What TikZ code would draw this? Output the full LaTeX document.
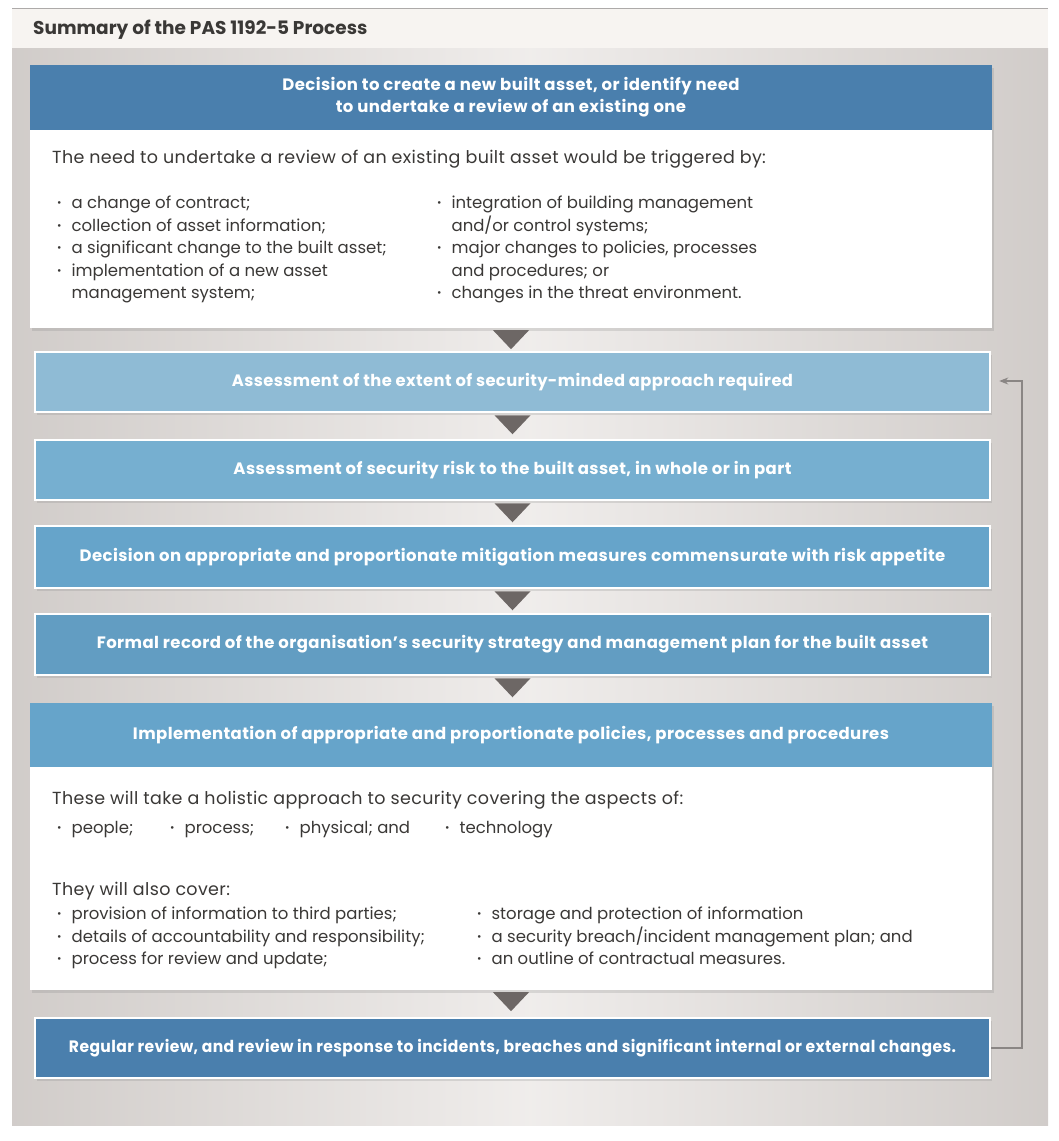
\documentclass[tikz,border=0pt]{standalone}
\usepackage{fontspec}
\setmainfont{Poppins}
\usepackage{xcolor}
\usepackage{graphicx}
\usetikzlibrary{calc,arrows.meta,shadows}

\definecolor{deepblue}{HTML}{4A7FAD}
\definecolor{paleblue}{HTML}{8FBBD5}
\definecolor{midblue}{HTML}{76AFD0}
\definecolor{softblue}{HTML}{66A4CA}
\definecolor{textgray}{HTML}{3A3836}
\definecolor{tricol}{HTML}{6D6765}
\definecolor{bandcol}{HTML}{F7F4F1}
\definecolor{backcol}{HTML}{E3DEDB}
\definecolor{linecol}{HTML}{8A8684}

\newcommand{\dotb}{\raisebox{0.2ex}{\scalebox{0.65}{\textbullet}}}
\newcommand{\downtri}[1]{\fill[tricol] ($(#1.south)+(-18,2)$) -- ($(#1.south)+(18,2)$) -- ($(#1.south)+(0,21)$) -- cycle;}

\begin{document}
\begin{tikzpicture}[x=1pt,y=-1pt,
stepbox/.style={rectangle, draw=white, line width=2.5pt, minimum width=955pt, minimum height=60pt,
  text=white, font={\bfseries\fontsize{16.5}{21}\selectfont\addfontfeature{LetterSpace=2.5}}, align=center,
  drop shadow={opacity=0.22,shadow xshift=2pt,shadow yshift=-3pt}},
headbox/.style={rectangle, minimum width=962pt, inner sep=0pt, text=white,
  font={\bfseries\fontsize{16.5}{22}\selectfont\addfontfeature{LetterSpace=2.5}}, align=center},
bodybox/.style={rectangle, fill=white, minimum width=962pt, inner sep=0pt,
  drop shadow={opacity=0.22,shadow xshift=2pt,shadow yshift=-3pt}},
bodytext/.style={anchor=base west, text=textgray, inner sep=0pt,
  font={\fontsize{17.5}{22.5}\selectfont\addfontfeature{LetterSpace=2}}},
listtext/.style={anchor=base west, text=textgray, inner sep=0pt,
  font={\fontsize{16.5}{22.5}\selectfont}}]
\useasboundingbox (0,0) rectangle (1058,1141);
% frame
\shade[left color=backcol!92!black, right color=backcol!92!black, middle color=backcol!55!white] (12,48) rectangle (1048,1125);
\fill[bandcol] (12,8) rectangle (1048,48);
\draw[linecol!70, line width=1pt] (12,8) -- (1048,8);
\node[anchor=base west, text=textgray, inner sep=0pt, font=\bfseries\fontsize{18.5}{20}\selectfont] (title) at (33,34) {Summary of the PAS 1192-5 Process};

\node[bodybox, minimum height=263pt] (need) at (511,196.5) {};
\node[headbox, fill=deepblue, minimum height=65pt, anchor=north] (decide) at (need.north) {Decision to create a new built asset, or identify need\\to undertake a review of an existing one};
\node[bodytext] (needintro) at (52,163) {The need to undertake a review of an existing built asset would be triggered by:};
\node[listtext] (needleft) at (57,208.5) {\begin{tabular}[t]{@{}l@{\hspace{10pt}}l@{}}
\dotb & a change of contract;\\
\dotb & collection of asset information;\\
\dotb & a significant change to the built asset;\\
\dotb & implementation of a new asset\\
 & management system;
\end{tabular}};
\node[listtext] (needright) at (437,208.5) {\begin{tabular}[t]{@{}l@{\hspace{10pt}}l@{}}
\dotb & integration of building management\\
 & and/or control systems;\\
\dotb & major changes to policies, processes\\
 & and procedures; or\\
\dotb & changes in the threat environment.
\end{tabular}};

\node[stepbox, fill=paleblue] (extent) at (512.5,382) {\resizebox{561pt}{\height}{Assessment of the extent of security-minded approach required}};
\node[stepbox, fill=midblue] (risk) at (512.5,470) {Assessment of security risk to the built asset, in whole or in part};
\node[stepbox, fill=softblue, minimum height=62pt] (mitig) at (512.5,557) {Decision on appropriate and proportionate mitigation measures commensurate with risk appetite};
\node[stepbox, fill=softblue!96!black, minimum height=61pt] (record) at (512.5,644.5) {Formal record of the organisation's security strategy and management plan for the built asset};

\node[bodybox, minimum height=287pt] (cover) at (511,846.5) {};
\node[headbox, fill=softblue, minimum height=64pt, anchor=north] (implem) at (cover.north) {Implementation of appropriate and proportionate policies, processes and procedures};
\node[bodytext] (coverintro) at (52,804.5) {These will take a holistic approach to security covering the aspects of:};
\node[listtext] at (57,833.5) {\dotb\hspace{10pt}people;};
\node[listtext] at (170,833.5) {\dotb\hspace{10pt}process;};
\node[listtext] at (285,833.5) {\dotb\hspace{10pt}physical; and};
\node[listtext] at (445,833.5) {\dotb\hspace{10pt}technology};
\node[bodytext] (alsocover) at (52,895.5) {They will also cover:};
\node[listtext] (coverleft) at (57,919.5) {\begin{tabular}[t]{@{}l@{\hspace{10pt}}l@{}}
\dotb & provision of information to third parties;\\
\dotb & details of accountability and responsibility;\\
\dotb & process for review and update;
\end{tabular}};
\node[listtext] (coverright) at (477,919.5) {\begin{tabular}[t]{@{}l@{\hspace{10pt}}l@{}}
\dotb & storage and protection of information\\
\dotb & a security breach/incident management plan; and\\
\dotb & an outline of contractual measures.
\end{tabular}};

\node[stepbox, fill=deepblue] (review) at (512.5,1048) {\resizebox{887pt}{\height}{Regular review, and review in response to incidents, breaches and significant internal or external changes.}};

% down arrows
\downtri{need}
\downtri{extent}
\downtri{risk}
\downtri{mitig}
\downtri{record}
\downtri{cover}

% loop back
\coordinate (loopbot) at (1022,1048);
\coordinate (looptop) at (1022,381);
\draw[linecol, line width=1.2pt, -{Stealth[length=9pt,width=7pt]}] (review.east) -- (loopbot) -- (looptop) -- ($(extent.east)+(8,-1)$);
\end{tikzpicture}
\end{document}
